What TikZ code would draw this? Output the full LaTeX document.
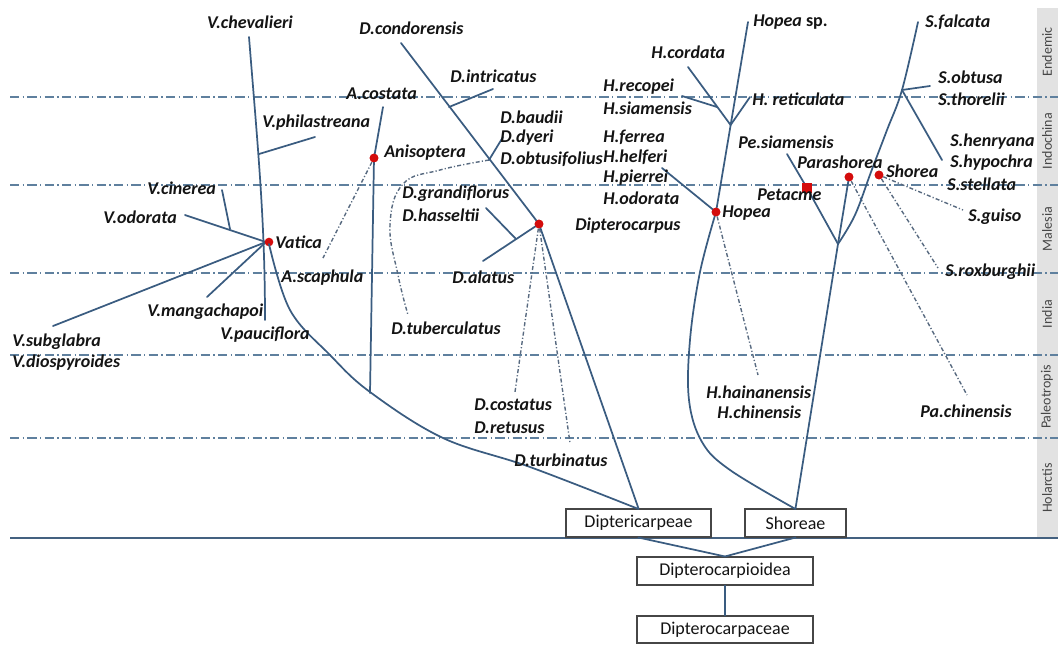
\documentclass[tikz,border=0pt]{standalone}
\usepackage{fontspec}
\setmainfont{Carlito}
\definecolor{treec}{RGB}{58,92,128}
\definecolor{zonec}{RGB}{95,128,158}
\definecolor{hintc}{RGB}{88,106,128}
\definecolor{nodered}{RGB}{212,12,12}
\definecolor{bandc}{RGB}{226,226,226}
\definecolor{txtc}{RGB}{20,20,20}
\definecolor{boxc}{RGB}{70,70,70}
\definecolor{bandtxt}{RGB}{70,70,70}
\begin{document}
\begin{tikzpicture}[x=0.75pt,y=-0.75pt,
  brl/.style={draw=treec, line width=1.3pt, line cap=round, line join=round},
  zoneline/.style={draw=zonec, line width=1.1pt, dash pattern=on 7pt off 2.5pt on 1pt off 2.5pt},
  hint/.style={draw=hintc, line width=1.05pt, dash pattern=on 3pt off 1.6pt on 0.9pt off 1.6pt},
  sp/.style={font=\fontsize{13.5}{15}\selectfont\bfseries\itshape, text=txtc, inner sep=0pt, anchor=west},
  reddot/.style={circle, fill=nodered, inner sep=0pt, minimum size=6.5pt},
  redsq/.style={rectangle, fill=nodered, inner sep=0pt, minimum size=7pt},
  taxbox/.style={draw=boxc, line width=0.8pt, fill=white, inner sep=0pt, font=\fontsize{13.5}{15}\selectfont, text=txtc, minimum height=21pt},
  bandlab/.style={rotate=90, font=\fontsize{10.5}{12}\selectfont, text=bandtxt, inner sep=0pt}
]
\useasboundingbox (0,0) rectangle (1058,644);

% grey band
\fill[bandc] (1037,8) rectangle (1058,538);
\node[bandlab] (bEnd) at (1047,52) {Endemic};
\node[bandlab] (bInd) at (1047,141) {Indochina};
\node[bandlab] (bMal) at (1047,229) {Malesia};
\node[bandlab] (bIn) at (1047,314) {India};
\node[bandlab] (bPal) at (1047,397) {Paleotropis};
\node[bandlab] (bHol) at (1047,488) {Holarctis};

% zone lines
\coordinate (z1a) at (10,97);  \coordinate (z1b) at (1058,97);
\coordinate (z2a) at (10,185); \coordinate (z2b) at (1058,185);
\coordinate (z3a) at (10,273); \coordinate (z3b) at (1058,273);
\coordinate (z4a) at (10,355); \coordinate (z4b) at (1058,355);
\coordinate (z5a) at (10,438); \coordinate (z5b) at (1058,438);
\draw[zoneline] (z1a) -- (z1b);
\draw[zoneline] (z2a) -- (z2b);
\draw[zoneline] (z3a) -- (z3b);
\draw[zoneline] (z4a) -- (z4b);
\draw[zoneline] (z5a) -- (z5b);
\coordinate (baseA) at (10,538); \coordinate (baseB) at (1058,538);
\draw[draw=treec!85!gray, line width=1.2pt] (baseA) -- (baseB);

% boxes
\node[taxbox, minimum width=108.75pt] (dipt) at (638.5,523) {Diptericarpeae};
\node[taxbox, minimum width=75.75pt] (shoreae) at (795.5,523) {Shoreae};
\node[taxbox, minimum width=132pt] (dioidea) at (725,571) {Dipterocarpioidea};
\node[taxbox, minimum width=132pt, minimum height=20.25pt] (dceae) at (725,629.5) {Dipterocarpaceae};
\draw[brl] (dipt.south) -- (dioidea.north);
\draw[brl] (shoreae.south) -- (dioidea.north);
\draw[brl] (dioidea.south) -- (dceae.north);

% ---------- Vatica ----------
\coordinate (vchev) at (249,37);
\coordinate (vpauc) at (265,320);
\coordinate (vphilj) at (259,154);
\coordinate (vphil) at (315,137);
\coordinate (vatj) at (266,242);
\coordinate (vodo) at (185,215);
\coordinate (vcin) at (222,190);
\coordinate (vcinj) at (230,229);
\coordinate (vsub) at (53,326);
\coordinate (vman) at (207,297);
\draw[brl] (vchev) .. controls (258,150) and (265,220) .. (vpauc);
\draw[brl] (vphilj) -- (vphil);
\draw[brl] (vodo) -- (vatj);
\draw[brl] (vcin) -- (vcinj);
\draw[brl] (vsub) -- (vatj);
\draw[brl] (vman) -- (vatj);
\node[reddot] (vatica) at (269,242) {};
\draw[brl] plot[smooth, tension=0.6] coordinates {(269,244) (290,310) (330,355) (370,392) (443,438) (530,467) (638.5,509)};

% ---------- Anisoptera ----------
\coordinate (acos) at (383,107);
\coordinate (acosb) at (370,393);
\node[reddot] (anis) at (374,158) {};
\coordinate (ascap) at (323,258);
\draw[hint] (anis) -- (ascap);
\draw[brl] (acos) -- (anis.center) -- (acosb);
\node[reddot] at (anis) {};

% ---------- Dipterocarpus ----------
\coordinate (dcond) at (401,43);
\node[reddot] (dipn) at (539,224) {};
\coordinate (dintj) at (449,107);
\coordinate (dint) at (493,89);
\coordinate (dbauj) at (489,160);
\coordinate (dbau) at (503,137);
\coordinate (dhas) at (486,208);
\coordinate (dhasj) at (516,239);
\coordinate (dala) at (483,261);
\coordinate (dcos) at (515,392);
\coordinate (dtur) at (570,443);
\draw[hint] (dipn) -- (dcos);
\draw[hint] (dipn) -- (dtur);
\draw[hint] plot[smooth, tension=0.7] coordinates {(489,160) (440,170) (403,184) (390,225) (398,275) (408,315)};
\draw[brl] (dcond) -- (dipn.center) -- (dipt.north);
\draw[brl] (dintj) -- (dint);
\draw[brl] (dbauj) -- (dbau);
\draw[brl] (dhas) -- (dhasj);
\draw[brl] (dala) -- (dipn.center);
\node[reddot] at (dipn) {};

% ---------- Hopea ----------
\coordinate (hsp) at (748,22);
\node[reddot] (hop) at (716,212) {};
\coordinate (hcorj) at (730.6,125);
\coordinate (hcor) at (688,67);
\coordinate (hrecj) at (717,107);
\coordinate (hrec) at (682,96);
\coordinate (hret) at (750,97);
\coordinate (hhel) at (662,168);
\coordinate (hhai) at (758,375);
\draw[hint] (hop) -- (hhai);
\draw[brl] (hsp) -- (hop.center);
\draw[brl] (hcor) -- (hcorj);
\draw[brl] (hrec) -- (hrecj);
\draw[brl] (hcorj) -- (hret);
\draw[brl] (hhel) -- (hop.center);
\draw[brl] plot[smooth, tension=0.6] coordinates {(716,212) (700,272) (690,340) (689,400) (702,442) (730,470) (795.5,509)};
\node[reddot] at (hop) {};

% ---------- Shorea ----------
\coordinate (shj) at (838,244);
\node[redsq] (pet) at (807,188) {};
\coordinate (pesi) at (787,154);
\node[reddot] (para) at (849,177) {};
\node[reddot] (shor) at (879,175) {};
\coordinate (sfal) at (918,22);
\coordinate (sobj) at (902,90);
\coordinate (sobt) at (930,86);
\coordinate (shen) at (942,160);
\coordinate (spac) at (967,395);
\coordinate (srox) at (938,268);
\coordinate (sgui) at (963,210);
\draw[hint] (para) -- (spac);
\draw[hint] (shor) -- (srox);
\draw[hint] (shor) -- (sgui);
\draw[brl] (shoreae.north) -- (shj);
\draw[brl] (shj) -- (pet.center) -- (pesi);
\draw[brl] (shj) -- (para.center);
\draw[brl] plot[smooth, tension=0.6] coordinates {(838,244) (855,215) (871,172) (887,130) (902,90) (918,22)};
\draw[brl] (sobj) -- (sobt);
\draw[brl] (sobj) -- (shen);
\node[redsq] at (pet) {};
\node[reddot] at (para) {};
\node[reddot] at (shor) {};

% ---------- labels ----------
\node[sp, anchor=center] (lvchev) at (250,22) {V.chevalieri};
\node[sp] (lvphil) at (262,123) {V.philastreana};
\node[sp] (lvcin) at (147,188) {V.cinerea};
\node[sp] (lvodo) at (103,217) {V.odorata};
\node[sp] (lvat) at (275,242) {Vatica};
\node[sp] (lvman) at (147,312) {V.mangachapoi};
\node[sp] (lvpau) at (220,335) {V.pauciflora};
\node[sp] (lvsub) at (12,342) {V.subglabra};
\node[sp] (lvdio) at (12,363) {V.diospyroides};
\node[sp] (lacos) at (346,94) {A.costata};
\node[sp] (lanis) at (384,153) {Anisoptera};
\node[sp] (lasca) at (281,278) {A.scaphula};
\node[sp] (ldcon) at (359,28) {D.condorensis};
\node[sp] (ldint) at (450,76) {D.intricatus};
\node[sp] (ldbau) at (500,117) {D.baudii};
\node[sp] (lddye) at (500,138) {D.dyeri};
\node[sp] (ldobt) at (500,159) {D.obtusifolius};
\node[sp] (ldgra) at (402,194) {D.grandiflorus};
\node[sp] (ldhas) at (402,215) {D.hasseltii};
\node[sp] (ldala) at (452,277) {D.alatus};
\node[sp] (ldtub) at (391,328) {D.tuberculatus};
\node[sp] (ldipc) at (575,226) {Dipterocarpus};
\node[sp] (ldcos) at (474,405) {D.costatus};
\node[sp] (ldret) at (474,428) {D.retusus};
\node[sp] (ldtur) at (514,460) {D.turbinatus};
\node[sp] (lhcor) at (651,52) {H.cordata};
\node[sp] (lhsp) at (753,22) {Hopea \textup{sp.}};
\node[sp] (lhrec) at (603,87) {H.recopei};
\node[sp] (lhsia) at (603,108) {H.siamensis};
\node[sp] (lhfer) at (603,137) {H.ferrea};
\node[sp] (lhhel) at (603,157) {H.helferi};
\node[sp] (lhpie) at (603,178) {H.pierrei};
\node[sp] (lhodo) at (603,198) {H.odorata};
\node[sp] (lhret) at (752,99) {H. reticulata};
\node[sp] (lhop) at (722,213) {Hopea};
\node[sp] (lhhai) at (706,392) {H.hainanensis};
\node[sp] (lhchi) at (717,412) {H.chinensis};
\node[sp] (lpesi) at (738,142) {Pe.siamensis};
\node[sp] (lpara) at (797,162) {Parashorea};
\node[sp] (lshor) at (886,171) {Shorea};
\node[sp] (lpet) at (757,195) {Petacme};
\node[sp] (lsfal) at (925,22) {S.falcata};
\node[sp] (lsobt) at (938,77) {S.obtusa};
\node[sp] (lstho) at (938,99) {S.thorelii};
\node[sp] (lshen) at (950,142) {S.henryana};
\node[sp] (lshyp) at (950,163) {S.hypochra};
\node[sp] (lsste) at (947,184) {S.stellata};
\node[sp] (lsgui) at (968,217) {S.guiso};
\node[sp] (lsrox) at (945,272) {S.roxburghii};
\node[sp] (lpachi) at (920,411) {Pa.chinensis};
\end{tikzpicture}
\end{document}
